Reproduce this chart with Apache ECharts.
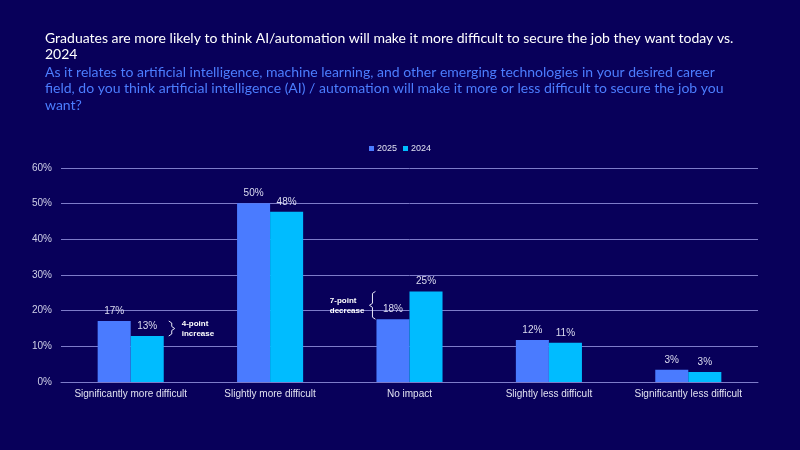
<!DOCTYPE html>
<html>
<head>
<meta charset="utf-8">
<script src="https://cdn.jsdelivr.net/npm/echarts@6/dist/echarts.min.js"></script>
<style>
  html, body { margin: 0; padding: 0; background: #08005a; }
  #chart { width: 800px; height: 450px; }
</style>
</head>
<body>
<div id="chart"></div>
<script>
const categories = ['Significantly more difficult', 'Slightly more difficult', 'No impact', 'Slightly less difficult', 'Significantly less difficult'];
const values_2025 = [17.1, 50.1, 17.6, 11.8, 3.4];
const values_2024 = [12.9, 47.7, 25.4, 11.0, 2.8];
const y_ticks = [0, 10, 20, 30, 40, 50, 60];

const title_text = 'Graduates are more likely to think AI/automation will make it more difficult to secure the job they want today vs.\n2024';
const subtitle_text = 'As it relates to artificial intelligence, machine learning, and other emerging technologies in your desired career\nfield, do you think artificial intelligence (AI) / automation will make it more or less difficult to secure the job you\nwant?';

const bar_ratio = 0.237;

const label_style = {
    show: true, position: 'top', color: '#dcdcf0', fontSize: 10, fontFamily: 'Liberation Sans',
    formatter: (p) => Math.round(p.value) + '%'
};

let my_chart = echarts.init(document.getElementById('chart'));
let option = {
    backgroundColor: '#08005a',
    animation: false,
    title: {
        text: title_text, subtext: subtitle_text, left: 40, top: 25, itemGap: 1,
        textStyle: {color: '#ffffff', fontSize: 14, fontWeight: 'normal', fontFamily: 'Lato', lineHeight: 16.5},
        subtextStyle: {color: '#4c7dff', fontSize: 14, fontFamily: 'Lato', lineHeight: 16.5}
    },
    legend: {
        data: ['2025', '2024'], top: 139, left: 'center', itemWidth: 5, itemHeight: 5, itemGap: 6,
        icon: 'rect',
        textStyle: {color: '#e0e0f0', fontSize: 9, fontFamily: 'Liberation Sans', padding: [0, 0, 0, -2]}
    },
    grid: {left: 61, right: 42, top: 168, bottom: 68},
    xAxis: {
        type: 'category', data: categories,
        axisLine: {lineStyle: {color: '#7d7bc9'}}, axisTick: {show: false},
        axisLabel: {color: '#e0e0f0', fontSize: 10, fontFamily: 'Liberation Sans', margin: 7, interval: 0}
    },
    yAxis: {
        type: 'value', min: 0, max: 60, interval: 10,
        axisLabel: {color: '#d0d0e8', fontSize: 10, fontFamily: 'Liberation Sans', margin: 9, formatter: '{value}%'},
        splitLine: {lineStyle: {color: '#7d7bc9', width: 1}}
    },
    series: [{
        name: '2025', type: 'bar', data: values_2025, barWidth: (bar_ratio * 100) + '%', barGap: '0%',
        itemStyle: {color: '#4a7bff'}, label: label_style
    }, {
        name: '2024', type: 'bar', data: values_2024, barWidth: (bar_ratio * 100) + '%',
        itemStyle: {color: '#00bcff'}, label: label_style
    }]
};
my_chart.setOption(option);

// bracket annotations placed from the bar positions
function bracket(x, y1, y2, dir) {
    const ym = (y1 + y2) / 2;
    const d = 3 * dir;
    return {
        type: 'polyline', silent: true,
        shape: {points: [[x, y1], [x + d, y1 + 2], [x + d, ym - 2], [x + 2 * d, ym], [x + d, ym + 2], [x + d, y2 - 2], [x, y2]]},
        style: {stroke: '#e8e8f8', lineWidth: 1, fill: null}
    };
}
const note_font = {fill: '#ffffff', fontSize: 8, fontWeight: 'bold', fontFamily: 'Liberation Sans', lineHeight: 10};
const c0 = my_chart.convertToPixel({xAxisIndex: 0}, categories[0]);
const c1 = my_chart.convertToPixel({xAxisIndex: 0}, categories[1]);
const c2 = my_chart.convertToPixel({xAxisIndex: 0}, categories[2]);
const bw = (c1 - c0) * bar_ratio;
const y_of = (v) => my_chart.convertToPixel({yAxisIndex: 0}, v);

const right_0 = c0 + bw;        // right edge of the 2024 bar, first group
const left_2 = c2 - bw;         // left edge of the 2025 bar, third group

my_chart.setOption({
    graphic: [
        bracket(right_0 + 5, y_of(values_2025[0]), y_of(values_2024[0]), 1),
        {type: 'text', silent: true, left: right_0 + 18, top: (y_of(values_2025[0]) + y_of(values_2024[0])) / 2 - 10,
            style: Object.assign({text: '4-point\nincrease'}, note_font)},
        bracket(left_2 - 1, y_of(values_2024[2]), y_of(values_2025[2]), -1),
        {type: 'text', silent: true, right: 800 - (left_2 - 12), top: (y_of(values_2024[2]) + y_of(values_2025[2])) / 2 - 10,
            style: Object.assign({text: '7-point\ndecrease', align: 'right'}, note_font)}
    ]
});
</script>
</body>
</html>
